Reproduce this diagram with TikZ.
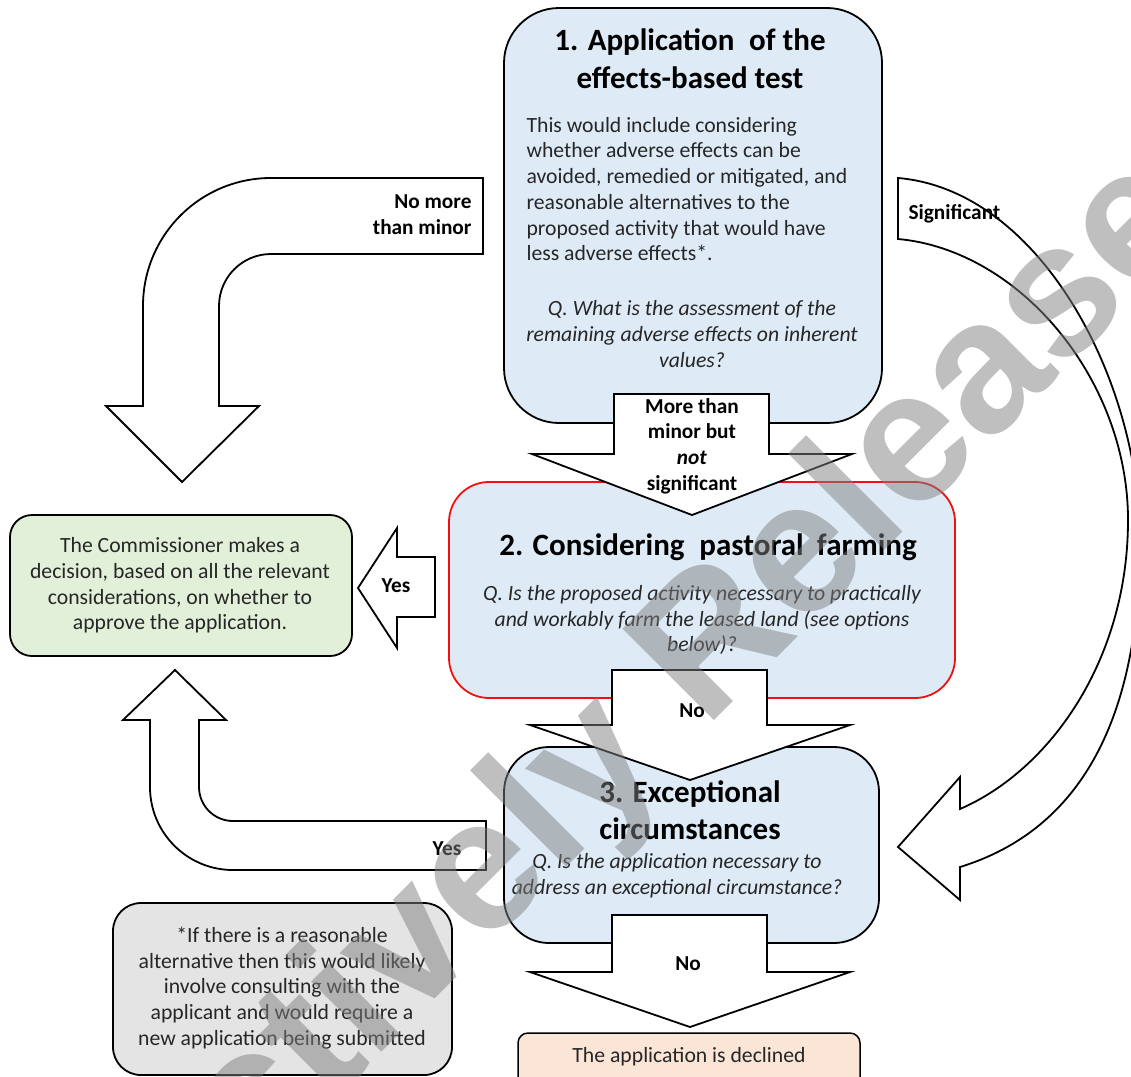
\documentclass[tikz,border=0pt]{standalone}
\usepackage{fontspec}
\setmainfont{Carlito}
\newfontfamily\wmfont{Liberation Sans}
\definecolor{stageblue}{HTML}{DEEBF7}
\definecolor{decidegreen}{HTML}{E2F0D9}
\definecolor{declinepeach}{HTML}{FBE5D6}
\definecolor{notegray}{HTML}{E4E4E4}
\definecolor{bodyink}{HTML}{262626}
\definecolor{alertred}{HTML}{F01010}
\begin{document}
\begin{tikzpicture}[x=1pt,y=-1pt,
  stagebox/.style={draw=black, line width=1.8pt, fill=stageblue, inner sep=0pt},
  plainbox/.style={draw=black, line width=1.8pt, inner sep=0pt},
  blockarrow/.style={draw=black, line width=1.8pt, fill=white, line join=miter},
  heading/.style={align=center, font=\fontsize{31}{38}\selectfont\bfseries, text=black},
  bodytext/.style={font=\fontsize{21.7}{25.7}\selectfont, text=bodyink},
  question/.style={align=center, font=\fontsize{21.7}{25.7}\selectfont\itshape, text=bodyink},
  arrowlabel/.style={align=center, font=\fontsize{21.3}{25.7}\selectfont\bfseries, text=black},
]
\useasboundingbox (0,0) rectangle (1131,1076);

% ---- stage boxes ----
\node[stagebox, rounded corners=55pt, minimum width=378pt, minimum height=415pt] (stageA) at (693,215.5) {};
\node[stagebox, draw=alertred, rounded corners=40pt, minimum width=506pt, minimum height=216pt] (stageB) at (702,590) {};
\node[stagebox, rounded corners=45pt, minimum width=375pt, minimum height=196pt] (stageC) at (691.5,845) {};

% ---- outcome boxes ----
\node[plainbox, fill=decidegreen, rounded corners=22pt, minimum width=342pt, minimum height=141pt] (decide) at (181,585.5) {};
\node[plainbox, fill=declinepeach, line width=1.5pt, rounded corners=10pt, minimum width=342pt, minimum height=62pt] (decline) at (689,1064) {};
\node[plainbox, fill=notegray, rounded corners=28pt, minimum width=339pt, minimum height=172pt] (note) at (282.5,989) {};

% ---- texts of stage 1 ----
\node[heading] (headA) at (690,59) {1. Application\hspace{0.25em} of the\\effects-based test};
\node[bodytext, anchor=west, align=left] (bodyA) at (523,189) {This would include considering\\whether adverse effects can be\\avoided, remedied or mitigated, and\\reasonable alternatives to the\\proposed activity that would have\\less adverse effects*.};
\node[question] (askA) at (692,334) {Q. What is the assessment of the\\remaining adverse effects on inherent\\values?};

% ---- texts of stage 2 ----
\node[heading] (headB) at (708,547) {2. Considering\hspace{0.25em} pastoral\hspace{0.2em} farming};
\node[question] (askB) at (702,620) {Q. Is the proposed activity necessary to practically\\and workably farm the leased land (see options\\below)?};

% ---- texts of stage 3 ----
\node[heading, font=\fontsize{31}{37}\selectfont\bfseries] (headC) at (690,810) {3. Exceptional\\circumstances};
\node[question] (askC) at (677,875.5) {Q. Is the application necessary to\\address an exceptional circumstance?};

% ---- outcome texts ----
\node[bodytext, align=center] (decideText) at (180,585.5) {The Commissioner makes a\\decision, based on all the relevant\\considerations, on whether to\\approve the application.};
\node[bodytext, align=center] (declineText) at (689,1057) {The application is declined};
\node[bodytext, align=center] (noteText) at (282,988) {*If there is a reasonable\\alternative then this would likely\\involve consulting with the\\applicant and would require a\\new application being submitted};

% ---- straight block arrows down the middle ----
\draw[blockarrow] (614,394) -- (769,394) -- (769,454) -- (852,454) -- (692,515) -- (532,454) -- (614,454) -- cycle;
\draw[blockarrow] (612,670) -- (767,670) -- (767,725) -- (850,725) -- (690,780) -- (530,725) -- (612,725) -- cycle;
\draw[blockarrow] (612,915) -- (767,915) -- (767,972) -- (850,972) -- (690,1027) -- (530,972) -- (612,972) -- cycle;
\node[arrowlabel] (labelMid) at (692,446) {More than\\minor but\\\textit{not}\\significant};
\node[arrowlabel] (labelNoB) at (692,711) {No};
\node[arrowlabel] (labelNoC) at (688,964) {No};

% ---- "Yes" arrow from stage 2 to the decision ----
\draw[blockarrow] (435,557) -- (397,557) -- (397,528) -- (358,588) -- (397,648) -- (397,617) -- (435,617) -- cycle;
\node[arrowlabel] (labelYesB) at (396,586) {Yes};

% ---- bent arrow: no more than minor ----
\draw[blockarrow] (483,178) -- (271,178) .. controls (200.3,178) and (143,235.3) .. (143,306)
  -- (143,406) -- (106,406) -- (182,482) -- (259,406) -- (219,406) -- (219,306)
  .. controls (219,277.3) and (242.3,254) .. (271,254) -- (483,254) -- cycle;
\node[arrowlabel, align=right, anchor=east] (labelMinor) at (475,215) {No more\\than minor};

% ---- bent arrow: yes from stage 3 ----
\draw[blockarrow] (486,821) -- (233,821) .. controls (214.2,821) and (199,805.8) .. (199,787)
  -- (199,720) -- (226,720) -- (175,670) -- (123,720) -- (150,720) -- (150,787)
  .. controls (150,832.8) and (187.2,870) .. (233,870) -- (486,870) -- cycle;
\node[arrowlabel] (labelYesC) at (447,849) {Yes};

% ---- curved arrow: significant ----
\begin{scope}
\clip (0,0) rectangle (1131,1076);
\draw[blockarrow] (898,178) .. controls (1040,190) and (1140,380) .. (1140,540)
  .. controls (1140,720) and (1080,830) .. (960,867) -- (960,900) -- (898,847) -- (960,777) -- (960,809)
  .. controls (1050,770) and (1128,660) .. (1128,520)
  .. controls (1128,380) and (1020,250) .. (898,239) -- cycle;
\end{scope}
\node[arrowlabel, anchor=west] (labelSig) at (905,214) {Significant};

% ---- watermark ----
\begin{scope}
\clip (0,0) rectangle (1131,1076);
\node[rotate=45, text=black!50, opacity=0.5, font=\wmfont\bfseries\fontsize{188}{188}\selectfont] (stamp) at (590,776) {Proactively Released};
\end{scope}
\end{tikzpicture}
\end{document}
